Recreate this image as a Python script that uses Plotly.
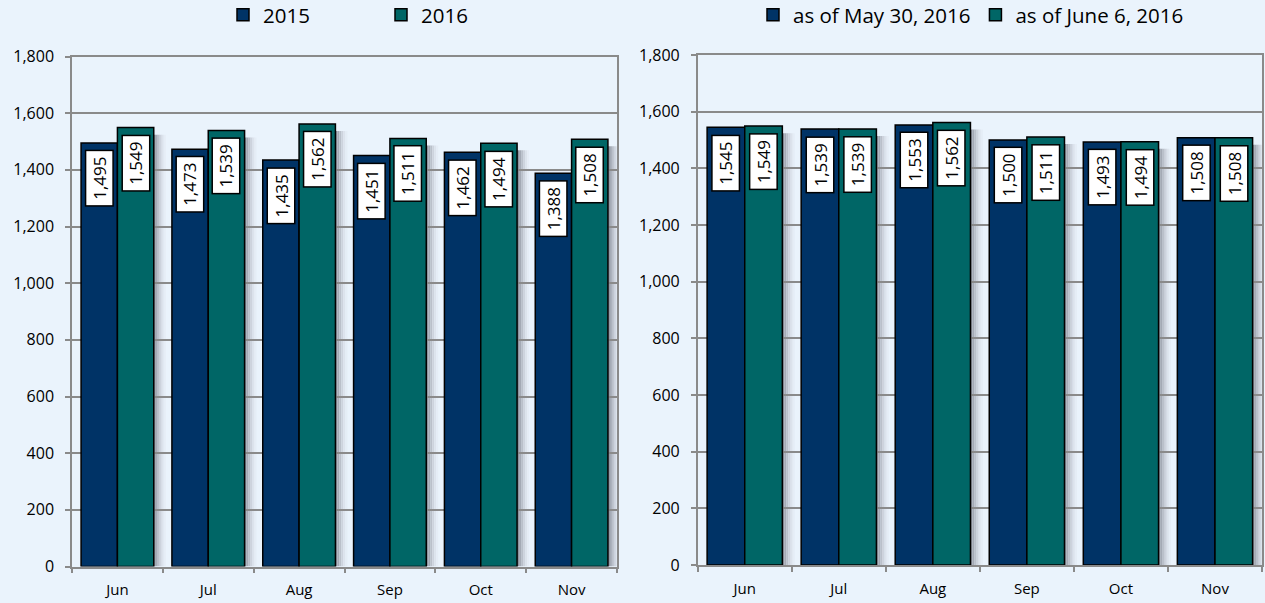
import plotly.graph_objects as go

months = ["Jun", "Jul", "Aug", "Sep", "Oct", "Nov"]
left_2015 = [1495, 1473, 1435, 1451, 1462, 1388]
left_2016 = [1549, 1539, 1562, 1511, 1494, 1508]
right_may30 = [1545, 1539, 1553, 1500, 1493, 1508]
right_jun6 = [1549, 1539, 1562, 1511, 1494, 1508]
y_ticks = [0, 200, 400, 600, 800, 1000, 1200, 1400, 1600, 1800]

NAVY = "#003366"
TEAL = "#006666"
BG = "#EAF3FC"
GRID = "#8A8A8A"
FONT = "Open Sans"

fig = go.Figure()

def add_bars(vals, name, color, xa, ya, legend):
    fig.add_trace(go.Bar(
        x=months, y=vals, name=name, xaxis=xa, yaxis=ya, legend=legend,
        marker=dict(color=color, line=dict(color="black", width=1.5)),
        hoverinfo="skip",
    ))

add_bars(left_2015, "2015", NAVY, "x", "y", "legend")
add_bars(left_2016, "2016", TEAL, "x", "y", "legend")
add_bars(right_may30, "as of May 30, 2016", NAVY, "x2", "y2", "legend2")
add_bars(right_jun6, "as of June 6, 2016", TEAL, "x2", "y2", "legend2")

# soft shadow strips to the right of each bar pair
shadow_cols = ["#8E939E", "#A4AAB5", "#BAC0CA", "#CDD3DD", "#DCE3EC", "#E5EDF6"]
shapes = []
def add_shadows(vals, xref, yref):
    step = 0.022
    for i, v in enumerate(vals):
        for k, c in enumerate(shadow_cols):
            shapes.append(dict(
                type="rect", xref=xref, yref=yref, layer="below",
                x0=i + 0.4 + k * step, x1=i + 0.4 + (k + 1) * step,
                y0=0, y1=v - 25, fillcolor=c, line=dict(width=0),
            ))

add_shadows(left_2016, "x", "y")
add_shadows(right_jun6, "x2", "y2")

annotations = []
def add_labels(vals, offset, xref, yref):
    for i, v in enumerate(vals):
        annotations.append(dict(
            x=i + offset, y=v, xref=xref, yref=yref,
            text=f"{v:,}", textangle=-90, showarrow=False,
            xanchor="center", yanchor="top", yshift=-7,
            bgcolor="white", bordercolor="black", borderwidth=1.5, borderpad=3,
            width=48, height=20,
            font=dict(family=FONT, size=17, color="black"),
        ))

add_labels(left_2015, -0.2, "x", "y")
add_labels(left_2016, 0.2, "x", "y")
add_labels(right_may30, -0.2, "x2", "y2")
add_labels(right_jun6, 0.2, "x2", "y2")

xaxis_common = dict(
    type="category", tickson="boundaries", ticks="outside", ticklen=5,
    tickcolor=GRID, tickwidth=1.5, showline=True, linecolor=GRID, linewidth=1.5,
    mirror=True, showgrid=False, tickfont=dict(family=FONT, size=15, color="black"),
    ticklabelstandoff=9, fixedrange=True, range=[-0.5, 5.5],
)
yaxis_common = dict(
    range=[0, 1800], tickvals=y_ticks, tickformat=",d", ticks="outside", ticklen=5,
    tickcolor=GRID, tickwidth=1.5, showline=True, linecolor=GRID, linewidth=1.5,
    mirror=True, showgrid=True, gridcolor=GRID, gridwidth=1.5, zeroline=False,
    tickfont=dict(family=FONT, size=16, color="black"), ticklabelstandoff=8,
    fixedrange=True,
)

fig.update_layout(
    width=1265, height=603,
    margin=dict(l=0, r=0, t=0, b=0, autoexpand=False),
    paper_bgcolor=BG, plot_bgcolor=BG,
    barmode="group", bargap=0.2, bargroupgap=0,
    font=dict(family=FONT, color="black"),
    xaxis=dict(domain=[72 / 1265, 617 / 1265], anchor="y", **xaxis_common),
    yaxis=dict(domain=[1 - 566.5 / 603, 1 - 56.5 / 603], anchor="x", **yaxis_common),
    xaxis2=dict(domain=[697.7 / 1265, 1262 / 1265], anchor="y2", **xaxis_common),
    yaxis2=dict(domain=[1 - 565 / 603, 1 - 55 / 603], anchor="x2", **yaxis_common),
    legend=dict(
        orientation="h", x=223 / 1265, y=1 - 15 / 603, xanchor="left", yanchor="middle",
        xref="paper", yref="paper", entrywidth=113, entrywidthmode="pixels",
        font=dict(family=FONT, size=20.5, color="black"), bgcolor="rgba(0,0,0,0)",
        itemclick=False, itemdoubleclick=False,
    ),
    legend2=dict(
        orientation="h", x=753 / 1265, y=1 - 15 / 603, xanchor="left", yanchor="middle",
        xref="paper", yref="paper",
        font=dict(family=FONT, size=20.5, color="black"), bgcolor="rgba(0,0,0,0)",
        itemclick=False, itemdoubleclick=False,
    ),
    annotations=annotations,
    shapes=shapes,
    showlegend=True,
)

fig.write_html(
    "out.html",
    config={"displayModeBar": False},
    post_script="document.body.style.margin='0';document.body.style.overflow='hidden';",
)
